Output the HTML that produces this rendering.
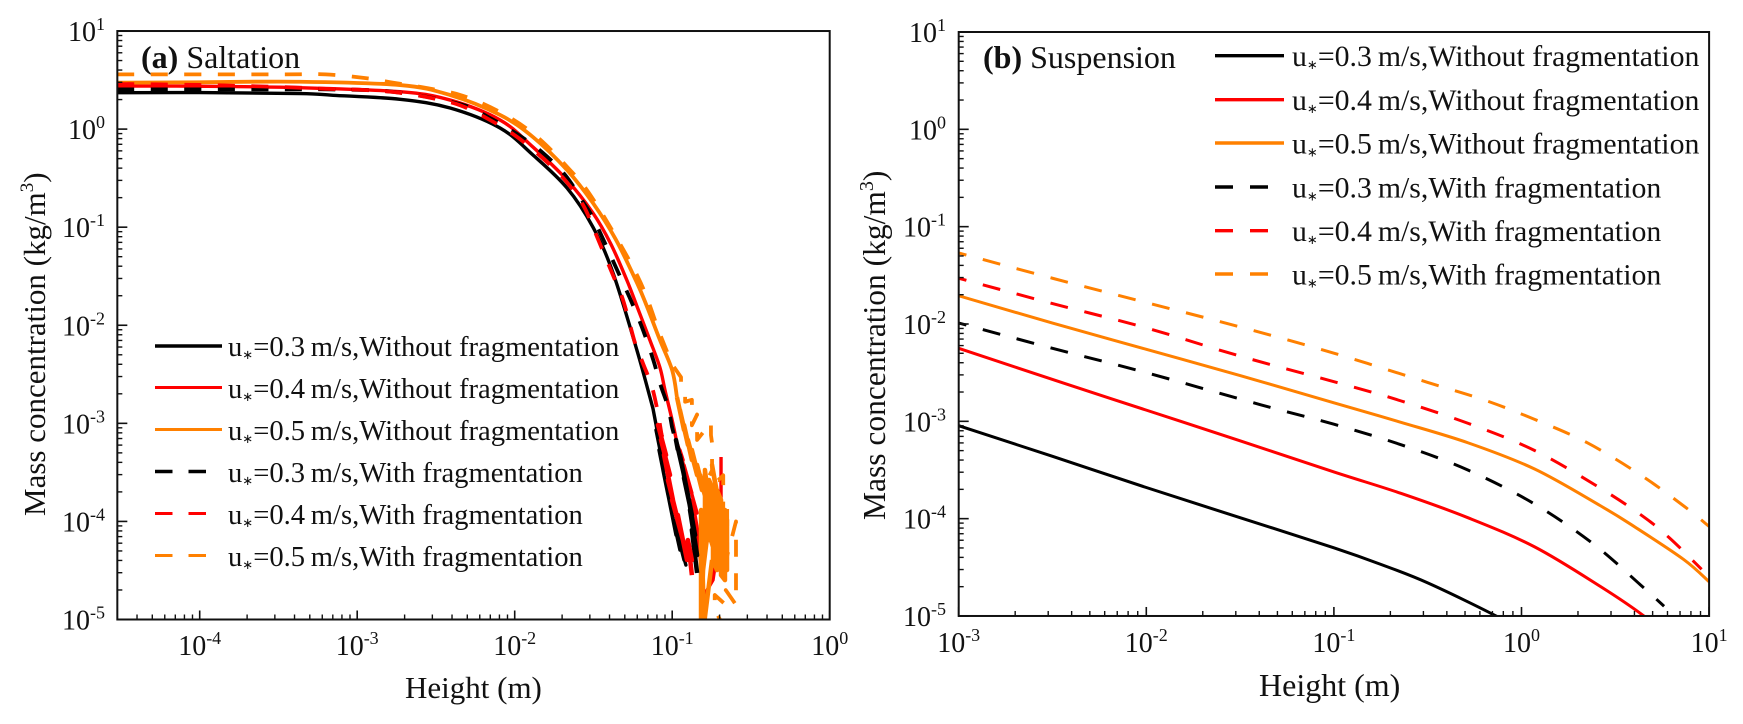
<!DOCTYPE html>
<html lang="en">
<head>
<meta charset="utf-8">
<title>Mass concentration vs height</title>
<style>
html,body{margin:0;padding:0;background:#fff;}
svg{display:block;font-family:"Liberation Serif","Times New Roman",serif;fill:#111;}
</style>
</head>
<body>
<svg id="figure" xmlns="http://www.w3.org/2000/svg" width="1743" height="724" viewBox="0 0 1743 724">
  <defs>
    <clipPath id="clip-a"><rect x="117" y="31" width="713" height="589"/></clipPath>
    <clipPath id="clip-b"><rect x="959" y="32" width="750" height="584"/></clipPath>
  </defs>
  <g id="panel-a">
    <g id="marks-a" clip-path="url(#clip-a)"></g>
    <g id="axes-a"></g>
    <text x="141" y="68" font-size="32"><tspan font-weight="bold">(a)</tspan> Saltation</text>
    <text x="405" y="698" font-size="31">Height (m)</text>
    <text transform="translate(45,516) rotate(-90)" font-size="31">Mass concentration (kg/m<tspan font-size="19" dy="-12">3</tspan><tspan dy="12">)</tspan></text>
    <g font-size="28.6">
      <g><line x1="155" x2="222" y1="346" y2="346" stroke="#000" stroke-width="3.4"/><text x="228" y="356">u<tspan font-size="13" dy="3">∗</tspan><tspan dy="-3">=0.3&#8201;m/s,Without fragmentation</tspan></text></g>
      <g><line x1="155" x2="222" y1="387.5" y2="387.5" stroke="#f00" stroke-width="3"/><text x="228" y="398">u<tspan font-size="13" dy="3">∗</tspan><tspan dy="-3">=0.4&#8201;m/s,Without fragmentation</tspan></text></g>
      <g><line x1="155" x2="222" y1="429.5" y2="429.5" stroke="#ff8000" stroke-width="3"/><text x="228" y="440">u<tspan font-size="13" dy="3">∗</tspan><tspan dy="-3">=0.5&#8201;m/s,Without fragmentation</tspan></text></g>
      <g><line x1="155" x2="206" y1="471.5" y2="471.5" stroke="#000" stroke-width="3.4" stroke-dasharray="17.5 16"/><text x="228" y="482">u<tspan font-size="13" dy="3">∗</tspan><tspan dy="-3">=0.3&#8201;m/s,With fragmentation</tspan></text></g>
      <g><line x1="155" x2="206" y1="513.5" y2="513.5" stroke="#f00" stroke-width="3" stroke-dasharray="17.5 16"/><text x="228" y="524">u<tspan font-size="13" dy="3">∗</tspan><tspan dy="-3">=0.4&#8201;m/s,With fragmentation</tspan></text></g>
      <g><line x1="155" x2="206" y1="555.5" y2="555.5" stroke="#ff8000" stroke-width="3" stroke-dasharray="17.5 16"/><text x="228" y="566">u<tspan font-size="13" dy="3">∗</tspan><tspan dy="-3">=0.5&#8201;m/s,With fragmentation</tspan></text></g>
    </g>
  </g>
  <g id="panel-b">
    <g id="marks-b" clip-path="url(#clip-b)"></g>
    <g id="axes-b"></g>
    <text x="983" y="68" font-size="32"><tspan font-weight="bold">(b)</tspan> Suspension</text>
    <text x="1259" y="696" font-size="32">Height (m)</text>
    <text transform="translate(885,520) rotate(-90)" font-size="31.5">Mass concentration (kg/m<tspan font-size="20" dy="-12">3</tspan><tspan dy="12">)</tspan></text>
    <g font-size="29.8">
      <g><line x1="1215" x2="1284" y1="55.7" y2="55.7" stroke="#000" stroke-width="3.4"/><text x="1292" y="66">u<tspan font-size="13" dy="3">∗</tspan><tspan dy="-3">=0.3&#8201;m/s,Without fragmentation</tspan></text></g>
      <g><line x1="1215" x2="1284" y1="99.7" y2="99.7" stroke="#f00" stroke-width="3.4"/><text x="1292" y="110">u<tspan font-size="13" dy="3">∗</tspan><tspan dy="-3">=0.4&#8201;m/s,Without fragmentation</tspan></text></g>
      <g><line x1="1215" x2="1284" y1="143" y2="143" stroke="#ff8000" stroke-width="3.4"/><text x="1292" y="153.5">u<tspan font-size="13" dy="3">∗</tspan><tspan dy="-3">=0.5&#8201;m/s,Without fragmentation</tspan></text></g>
      <g><line x1="1215" x2="1268" y1="187" y2="187" stroke="#000" stroke-width="3.4" stroke-dasharray="18 17"/><text x="1292" y="197.5">u<tspan font-size="13" dy="3">∗</tspan><tspan dy="-3">=0.3&#8201;m/s,With fragmentation</tspan></text></g>
      <g><line x1="1215" x2="1268" y1="230.7" y2="230.7" stroke="#f00" stroke-width="3.4" stroke-dasharray="18 17"/><text x="1292" y="241">u<tspan font-size="13" dy="3">∗</tspan><tspan dy="-3">=0.4&#8201;m/s,With fragmentation</tspan></text></g>
      <g><line x1="1215" x2="1268" y1="274" y2="274" stroke="#ff8000" stroke-width="3.4" stroke-dasharray="18 17"/><text x="1292" y="284.5">u<tspan font-size="13" dy="3">∗</tspan><tspan dy="-3">=0.5&#8201;m/s,With fragmentation</tspan></text></g>
    </g>
  </g>
</svg>
<script>
// All values are log10 exponents of height (m) and mass concentration (kg/m3).
const saltXTickExps = [-4, -3, -2, -1, 0];
const saltYTickExps = [1, 0, -1, -2, -3, -4, -5];
const suspXTickExps = [-3, -2, -1, 0, 1];
const suspYTickExps = [1, 0, -1, -2, -3, -4, -5];

const saltXBlackSolid = [-4.523,-4,-3.363,-3.153,-2.728,-2.41,-2.093,-1.884,-1.668,-1.503,-1.375,-1.223,-1.122,-1.078,-1.103,-1.052,-1.084,-1.027,-1.059,-1.001,-1.033,-0.976,-1.014,-0.951,-0.989,-0.925,-0.964,-0.913,-0.944];
const saltYBlackSolid = [0.371,0.372,0.362,0.345,0.304,0.215,0.011,-0.264,-0.6,-1,-1.47,-2.26,-2.85,-3.221,-3.068,-3.476,-3.272,-3.731,-3.476,-3.935,-3.68,-4.139,-3.833,-4.292,-3.986,-4.394,-4.139,-4.445,-4.271];
const saltXRedSolid = [-4.523,-4,-3.363,-2.728,-2.41,-2.093,-1.884,-1.668,-1.503,-1.39,-1.288,-1.223,-1.142,-1.078,-1.046,-1,-0.97,-0.931,-0.951,-0.906,-0.925,-0.875,-0.9,-0.842,-0.875,-0.836,-0.855,-0.823,-0.804,-0.741,-0.71,-0.69,-0.69];
const saltYRedSolid = [0.439,0.437,0.422,0.381,0.296,0.093,-0.183,-0.519,-0.856,-1.17,-1.54,-1.81,-2.15,-2.43,-2.66,-2.97,-3.2,-3.374,-3.272,-3.578,-3.425,-3.71,-3.578,-3.914,-3.782,-4.118,-3.935,-4.363,-4.771,-4.598,-4.261,-3.751,-3.343];
const saltXOrangeSolid = [-4.523,-4,-3.363,-2.728,-2.41,-2.093,-1.884,-1.668,-1.503,-1.36,-1.223,-1.16,-1.078,-1,-0.97,-0.925,-0.951,-0.9,-0.925,-0.875,-0.9,-0.842,-0.875,-0.811,-0.842,-0.785,-0.823,-0.76,-0.798,-0.735,-0.779,-0.71,-0.747,-0.684,-0.722,-0.665,-0.703,-0.652,-0.69,-0.665,-0.722,-0.792,-0.792,-0.766,-0.766,-0.741,-0.741,-0.716,-0.716,-0.69,-0.69,-0.665,-0.665,-0.652,-0.652,-0.741,-0.773,-0.804,-0.817,-0.817,-0.798,-0.747];
const saltYOrangeSolid = [0.473,0.478,0.483,0.449,0.347,0.144,-0.081,-0.417,-0.754,-1.12,-1.57,-1.81,-2.15,-2.46,-2.732,-3.068,-2.864,-3.221,-3.017,-3.374,-3.17,-3.527,-3.272,-3.68,-3.425,-3.782,-3.527,-3.935,-3.68,-4.088,-3.833,-3.782,-3.425,-3.986,-3.68,-4.241,-3.884,-4.445,-4.19,-4.547,-4.394,-3.476,-4.19,-4.19,-3.578,-3.68,-4.394,-4.496,-3.68,-3.782,-4.547,-4.598,-3.884,-3.986,-4.496,-4.261,-4.088,-4.496,-5.05,-3.884,-5.05,-4.394];
const saltXBlackDash = [-4.523,-3.5,-3.19,-2.77,-2.35,-2.157,-1.985,-1.827,-1.68,-1.566,-1.49,-1.312,-1.255,-1.185,-1.12,-1.078,-1.027,-1.001,-0.964,-0.976,-0.925,-0.951,-0.9,-0.925,-0.875,-0.9,-0.855,-0.887,-0.842,-0.875,-0.842];
const saltYBlackDash = [0.405,0.405,0.405,0.38,0.256,0.113,-0.05,-0.234,-0.468,-0.743,-0.947,-1.57,-1.774,-2.05,-2.354,-2.59,-2.83,-3.038,-3.272,-3.17,-3.527,-3.323,-3.731,-3.557,-3.935,-3.731,-4.139,-3.884,-4.343,-4.088,-4.526];
const saltXRedDash = [-4.523,-4,-3.5,-3.19,-2.97,-2.77,-2.56,-2.35,-2.157,-1.985,-1.83,-1.68,-1.566,-1.49,-1.363,-1.319,-1.28,-1.236,-1.185,-1.128,-1.09,-1.065,-1.09,-1.039,-1.071,-1.014,-1.052,-0.995,-1.027,-0.964,-1.001,-0.932,-0.964,-0.906,-0.932,-0.875,-0.9,-0.875];
const saltYRedDash = [0.46,0.45,0.43,0.41,0.4,0.378,0.327,0.245,0.093,-0.08,-0.285,-0.52,-0.774,-1.05,-1.54,-1.71,-1.92,-2.18,-2.39,-2.63,-2.895,-3.139,-3.017,-3.323,-3.17,-3.527,-3.323,-3.782,-3.578,-3.986,-3.782,-4.19,-3.935,-4.394,-4.19,-4.394,-4.19,-4.547];
const saltXOrangeDash = [-4.523,-3.5,-3.2,-2.94,-2.77,-2.56,-2.33,-2.09,-1.88,-1.67,-1.5,-1.22,-1.08,-1,-0.944,-0.944,-0.918,-0.918,-0.875,-0.875,-0.842,-0.842,-0.754,-0.754,-0.747,-0.747,-0.779,-0.708,-0.676,-0.676,-0.651,-0.651,-0.595,-0.595,-0.595,-0.595,-0.595,-0.595,-0.66,-0.66,-0.73,-0.73,-0.68];
const saltYOrangeDash = [0.558,0.558,0.558,0.518,0.473,0.419,0.34,0.17,-0.05,-0.38,-0.72,-1.5,-2.08,-2.4,-2.53,-2.62,-2.68,-2.78,-2.76,-3.02,-2.91,-3.17,-2.99,-3.12,-3.2,-3.48,-3.58,-3.58,-3.53,-3.99,-3.86,-4.35,-4,-4.16,-4.34,-4.52,-4.7,-4.85,-4.7,-4.85,-4.75,-4.9,-5.05];

const suspXBlackSolid = [-3,-2.5,-2,-1.5,-1,-0.75,-0.5,-0.136,0];
const suspYBlackSolid = [-3.045,-3.36,-3.68,-3.99,-4.3,-4.47,-4.66,-5,-5.17];
const suspXRedSolid = [-3,-2.5,-2,-1.5,-1,-0.643,-0.286,0.07,0.423,0.652,0.8];
const suspYRedSolid = [-2.25,-2.57,-2.885,-3.2,-3.52,-3.74,-3.99,-4.29,-4.7,-5,-5.25];
const suspXOrangeSolid = [-3,-2.5,-2,-1.5,-1,-0.643,-0.286,0.07,0.423,0.6,0.865,1];
const suspYOrangeSolid = [-1.71,-1.99,-2.26,-2.53,-2.81,-3.01,-3.22,-3.49,-3.87,-4.08,-4.42,-4.648];
const suspXBlackDash = [-3,-2.5,-2,-1.39,-1,-0.643,-0.286,0.07,0.383,0.634,0.76];
const suspYBlackDash = [-1.99,-2.25,-2.5,-2.83,-3.03,-3.24,-3.5,-3.85,-4.26,-4.68,-4.9];
const suspXRedDash = [-3,-2.5,-2,-1.5,-0.91,-0.643,-0.286,0.07,0.423,0.65,0.79,0.96];
const suspYRedDash = [-1.53,-1.79,-2.04,-2.33,-2.64,-2.79,-3.02,-3.3,-3.69,-3.98,-4.2,-4.52];
const suspXOrangeDash = [-3,-2.5,-2,-1.5,-1,-0.5,-0.2,0.07,0.35,0.634,0.865,1];
const suspYOrangeDash = [-1.27,-1.53,-1.78,-2.03,-2.3,-2.6,-2.78,-2.98,-3.22,-3.55,-3.87,-4.08];

const BLACK = '#000', RED = '#f00', ORANGE = '#ff8000';
const NS = 'http://www.w3.org/2000/svg';

function saltX(e){ return 829.7 + e * 157.5; }
function saltY(e){ return 129.1 - e * 98.08; }
function suspX(e){ return 1521.5 + e * 187.6; }
function suspY(e){ return 129.33 - e * 97.33; }

// Catmull-Rom through the first smoothEnd points, straight segments afterwards.
function buildPath(xs, ys, sx, sy, from, to, smoothEnd){
  const px = [], py = [];
  for (let i = from; i < to; i++) { px.push(sx(xs[i])); py.push(sy(ys[i])); }
  let d = 'M' + px[0].toFixed(2) + ' ' + py[0].toFixed(2);
  for (let i = 1; i < px.length; i++) {
    if (i + from < smoothEnd) {
      const a = Math.max(i - 2, 0), b = i - 1, c = i, e = Math.min(i + 1, Math.min(px.length, smoothEnd - from) - 1);
      const c1x = px[b] + (px[c] - px[a]) / 6, c1y = py[b] + (py[c] - py[a]) / 6;
      const c2x = px[c] - (px[e] - px[b]) / 6, c2y = py[c] - (py[e] - py[b]) / 6;
      d += 'C' + c1x.toFixed(2) + ' ' + c1y.toFixed(2) + ' ' + c2x.toFixed(2) + ' ' + c2y.toFixed(2) + ' ' + px[c].toFixed(2) + ' ' + py[c].toFixed(2);
    } else {
      d += 'L' + px[i].toFixed(2) + ' ' + py[i].toFixed(2);
    }
  }
  return d;
}

function drawSeries(parent, xs, ys, sx, sy, color, dash, offset, width, smoothEnd, tailSolidFrom){
  const bodyEnd = tailSolidFrom ? tailSolidFrom + 1 : xs.length;
  const p = document.createElementNS(NS, 'path');
  
  
  p.setAttribute('d', buildPath(xs, ys, sx, sy, 0, bodyEnd, smoothEnd));
  p.setAttribute('fill', 'none');
  p.setAttribute('stroke', color);
  p.setAttribute('stroke-width', width);
  p.setAttribute('stroke-linejoin', 'round');
  if (dash) {
    p.setAttribute('stroke-dasharray', dash);
    p.setAttribute('stroke-dashoffset', offset);
  }
  parent.appendChild(p);
  if (tailSolidFrom) {
    const t = document.createElementNS(NS, 'path');
    
    
    t.setAttribute('d', buildPath(xs, ys, sx, sy, tailSolidFrom, xs.length, 0));
    t.setAttribute('fill', 'none');
    t.setAttribute('stroke', color);
    t.setAttribute('stroke-width', width + 0.7);
    t.setAttribute('stroke-linejoin', 'round');
    parent.appendChild(t);
  }
}

function addLine(parent, x1, y1, x2, y2, w){
  const l = document.createElementNS(NS, 'line');
  
  
  l.setAttribute('x1', x1); l.setAttribute('y1', y1);
  l.setAttribute('x2', x2); l.setAttribute('y2', y2);
  l.setAttribute('stroke', '#111');
  l.setAttribute('stroke-width', w);
  parent.appendChild(l);
}

function addLabel(parent, x, y, exp, anchor, size){
  const t = document.createElementNS(NS, 'text');
  
  
  t.setAttribute('x', x);
  t.setAttribute('y', y);
  t.setAttribute('text-anchor', anchor);
  t.setAttribute('font-size', size);
  t.appendChild(document.createTextNode('10'));
  const s = document.createElementNS(NS, 'tspan');
  s.setAttribute('font-size', Math.round(size * 0.64));
  s.setAttribute('dy', -11);
  s.textContent = String(exp);
  t.appendChild(s);
  parent.appendChild(t);
}

function drawAxes(parent, sx, sy, xt, yt, xMinExp, cfg){
  const L = sx(xMinExp), R = sx(xt[xt.length - 1]);
  const T = sy(yt[0]), B = sy(yt[yt.length - 1]);
  const box = document.createElementNS(NS, 'rect');
  
  
  box.setAttribute('x', L); box.setAttribute('y', T);
  box.setAttribute('width', R - L); box.setAttribute('height', B - T);
  box.setAttribute('fill', 'none');
  box.setAttribute('stroke', '#111');
  box.setAttribute('stroke-width', 2);
  parent.appendChild(box);
  xt.forEach(function(e){
    addLine(parent, sx(e), B, sx(e), B - 9, 1.6);
    addLabel(parent, sx(e), cfg.xBase, e, 'middle', cfg.size);
  });
  for (let d = xt[0] - 1; d < xt[xt.length - 1]; d++) {
    for (let m = 2; m < 10; m++) {
      const e = d + Math.log10(m);
      if (e > xMinExp + 0.001) addLine(parent, sx(e), B, sx(e), B - 5, 1.4);
    }
  }
  yt.forEach(function(e){
    addLine(parent, L, sy(e), L + 10, sy(e), 1.6);
    addLabel(parent, cfg.yRight, sy(e) + 10, e, 'end', cfg.size);
  });
  for (let d = yt[yt.length - 1]; d < yt[0]; d++) {
    for (let m = 2; m < 10; m++) {
      addLine(parent, L, sy(d + Math.log10(m)), L + 5, sy(d + Math.log10(m)), 1.4);
    }
  }
}

const marksA = document.getElementById('marks-a');
const dashA = '17 16.5';
drawSeries(marksA, saltXBlackSolid, saltYBlackSolid, saltX, saltY, BLACK, null, 0, 3.4, 13, 0);
drawSeries(marksA, saltXRedSolid, saltYRedSolid, saltX, saltY, RED, null, 0, 3.4, 17, 0);
drawSeries(marksA, saltXOrangeSolid, saltYOrangeSolid, saltX, saltY, ORANGE, null, 0, 3.8, 15, 14);
drawSeries(marksA, saltXBlackDash, saltYBlackDash, saltX, saltY, BLACK, dashA, 0, 3.8, 18, 18);
drawSeries(marksA, saltXRedDash, saltYRedDash, saltX, saltY, RED, dashA, 0, 3.8, 21, 21);
drawSeries(marksA, saltXOrangeDash, saltYOrangeDash, saltX, saltY, ORANGE, dashA, 0, 3.8, 14, 0);
drawAxes(document.getElementById('axes-a'), saltX, saltY, saltXTickExps, saltYTickExps, -4.523, {xBase: 655, yRight: 105, size: 28});

const marksB = document.getElementById('marks-b');
const dashB = '18 17';
drawSeries(marksB, suspXBlackSolid, suspYBlackSolid, suspX, suspY, BLACK, null, 0, 3, 99, 0);
drawSeries(marksB, suspXRedSolid, suspYRedSolid, suspX, suspY, RED, null, 0, 3, 99, 0);
drawSeries(marksB, suspXOrangeSolid, suspYOrangeSolid, suspX, suspY, ORANGE, null, 0, 3, 99, 0);
drawSeries(marksB, suspXBlackDash, suspYBlackDash, suspX, suspY, BLACK, dashB, 10, 3, 99, 0);
drawSeries(marksB, suspXRedDash, suspYRedDash, suspX, suspY, RED, dashB, 10, 3, 99, 0);
drawSeries(marksB, suspXOrangeDash, suspYOrangeDash, suspX, suspY, ORANGE, dashB, 10, 3, 99, 0);
drawAxes(document.getElementById('axes-b'), suspX, suspY, suspXTickExps, suspYTickExps, -3, {xBase: 652, yRight: 946, size: 28});
</script>
</body>
</html>
